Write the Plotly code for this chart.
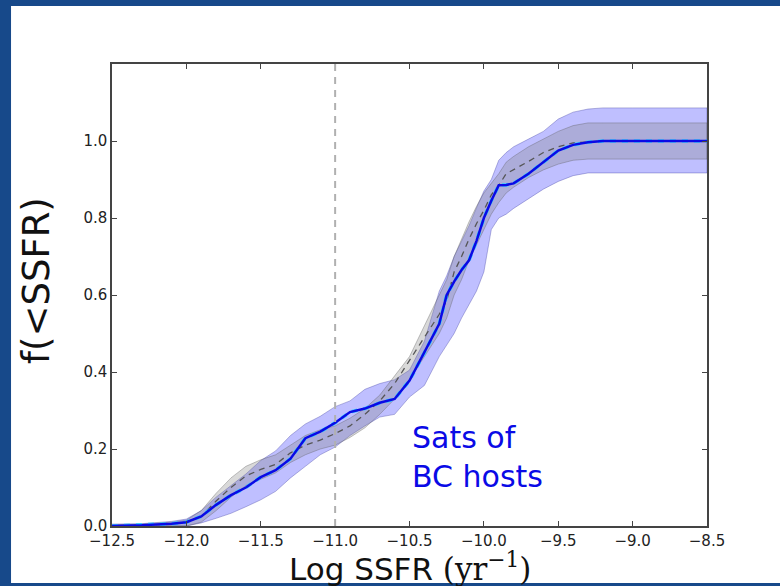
import plotly.graph_objects as go

# ---- data ----
ssfr = [-12.5, -12.3, -12.1, -12.0, -11.9, -11.8, -11.7, -11.6, -11.5, -11.4,
        -11.3, -11.2, -11.1, -11.0, -10.9, -10.8, -10.7, -10.6, -10.5, -10.4,
        -10.3, -10.25, -10.2, -10.15, -10.1, -10.05, -10.0, -9.95, -9.9, -9.85,
        -9.8, -9.7, -9.6, -9.5, -9.4, -9.3, -9.2, -9.0, -8.5]

sats_median = [0.0, 0.002, 0.006, 0.01, 0.025, 0.055, 0.08, 0.10, 0.127, 0.145,
               0.175, 0.228, 0.245, 0.268, 0.296, 0.305, 0.32, 0.33, 0.378, 0.45,
               0.525, 0.60, 0.635, 0.665, 0.69, 0.74, 0.80, 0.845, 0.885, 0.886,
               0.89, 0.915, 0.945, 0.975, 0.99, 0.997, 1.0, 1.0, 1.0]
sats_lo = [0.0, 0.0, 0.0, 0.0, 0.008, 0.02, 0.033, 0.05, 0.068, 0.09,
           0.125, 0.155, 0.185, 0.205, 0.235, 0.26, 0.283, 0.29, 0.335, 0.365,
           0.44, 0.47, 0.50, 0.54, 0.575, 0.61, 0.66, 0.77, 0.80, 0.81,
           0.825, 0.85, 0.875, 0.895, 0.91, 0.917, 0.917, 0.917, 0.917]
sats_hi = [0.005, 0.006, 0.012, 0.018, 0.04, 0.075, 0.105, 0.135, 0.17, 0.195,
           0.235, 0.265, 0.285, 0.31, 0.325, 0.355, 0.37, 0.38, 0.405, 0.48,
           0.61, 0.65, 0.70, 0.74, 0.78, 0.826, 0.87, 0.90, 0.95, 0.97,
           0.985, 1.005, 1.025, 1.057, 1.075, 1.083, 1.086, 1.086, 1.086]

comp_median = [0.0, 0.002, 0.005, 0.01, 0.025, 0.065, 0.1, 0.13, 0.147, 0.16,
               0.19, 0.21, 0.223, 0.24, 0.26, 0.29, 0.325, 0.37, 0.43, 0.49,
               0.55, 0.585, 0.66, 0.70, 0.745, 0.785, 0.82, 0.86, 0.885, 0.915,
               0.925, 0.947, 0.97, 0.985, 0.995, 0.998, 1.0, 1.0, 1.0]
comp_lo = [0.0, 0.0, 0.0, 0.0, 0.01, 0.04, 0.075, 0.105, 0.122, 0.138,
           0.165, 0.185, 0.2, 0.21, 0.23, 0.255, 0.29, 0.33, 0.38, 0.44,
           0.50, 0.54, 0.60, 0.64, 0.69, 0.73, 0.77, 0.81, 0.84, 0.865,
           0.88, 0.905, 0.925, 0.94, 0.95, 0.953, 0.953, 0.953, 0.953]
comp_hi = [0.003, 0.005, 0.01, 0.015, 0.04, 0.085, 0.125, 0.155, 0.172, 0.185,
           0.21, 0.235, 0.25, 0.26, 0.28, 0.305, 0.34, 0.39, 0.44, 0.52,
           0.60, 0.64, 0.70, 0.745, 0.79, 0.83, 0.865, 0.89, 0.915, 0.945,
           0.96, 0.985, 1.005, 1.025, 1.04, 1.047, 1.047, 1.047, 1.047]

x_ticks = [-12.5, -12.0, -11.5, -11.0, -10.5, -10.0, -9.5, -9.0, -8.5]
y_ticks = [0.0, 0.2, 0.4, 0.6, 0.8, 1.0]
cut_ssfr = -11.0

fig = go.Figure()

# sats band (light blue)
fig.add_trace(go.Scatter(
    x=ssfr + ssfr[::-1], y=sats_hi + sats_lo[::-1], fill="toself",
    fillcolor="rgba(0,0,255,0.25)", line=dict(color="rgba(60,60,160,0.45)", width=0.8),
    mode="lines", hoverinfo="skip", showlegend=False))
# comparison band (gray)
fig.add_trace(go.Scatter(
    x=ssfr + ssfr[::-1], y=comp_hi + comp_lo[::-1], fill="toself",
    fillcolor="rgba(128,128,128,0.3)", line=dict(color="rgba(90,90,90,0.45)", width=0.8),
    mode="lines", hoverinfo="skip", showlegend=False))
# comparison median (gray dashed)
fig.add_trace(go.Scatter(
    x=ssfr, y=comp_median, mode="lines",
    line=dict(color="#555555", width=1.3, dash="6px,5px"), showlegend=False))
# cyan under-line
fig.add_trace(go.Scatter(
    x=ssfr, y=sats_median, mode="lines",
    line=dict(color="#33ccff", width=3.5, dash="6px,6px"), showlegend=False))
# sats median (blue)
fig.add_trace(go.Scatter(
    x=ssfr, y=sats_median, mode="lines",
    line=dict(color="#0a0ae6", width=2.5), showlegend=False))

# vertical dashed reference line
fig.add_shape(type="line", xref="x", yref="paper", x0=cut_ssfr, x1=cut_ssfr, y0=0, y1=1,
              line=dict(color="#b0b0b0", width=2, dash="7px,6px"))

# white slide panel over blue background
fig.add_shape(type="rect", xref="paper", yref="paper", x0=-0.1697, x1=1.125,
              y0=-0.1234, y1=1.1255, fillcolor="white", line=dict(width=0), layer="below")

fig.add_annotation(x=-10.5, y=0.28, xref="x", yref="y", xanchor="left", yanchor="top",
                   text="Sats of<br>BC hosts", showarrow=False, align="left",
                   font=dict(family="DejaVu Sans", size=30, color="#0a0ae6"))

# axis titles as annotations for exact placement
fig.add_annotation(x=0.5, y=-0.089, xref="paper", yref="paper", xanchor="center", yanchor="middle",
                   text="Log SSFR <span style=\"font-family:'DejaVu Serif'\">(yr<sup>\u22121</sup>)</span>",
                   showarrow=False, font=dict(family="DejaVu Sans", size=31, color="#111111"))
fig.add_annotation(x=-0.128, y=0.532, xref="paper", yref="paper", xanchor="center", yanchor="middle",
                   text="f(<SSFR)", textangle=-90, showarrow=False,
                   font=dict(family="DejaVu Sans", size=37, color="#111111"))

axis_common = dict(showline=True, linecolor="#444444", linewidth=1.5, mirror="allticks",
                   ticks="inside", ticklen=5, tickcolor="#444444", showgrid=False,
                   zeroline=False, tickfont=dict(family="DejaVu Sans", size=15, color="#222222"))

fig.update_xaxes(range=[-12.5, -8.5], tickvals=x_ticks,
                 ticktext=[("\u2212%.1f" % abs(v)) for v in x_ticks], **axis_common)
fig.update_yaxes(range=[0, 1.2], tickvals=y_ticks, ticktext=["%.1f" % v for v in y_ticks],
                 **axis_common)

fig.update_layout(width=780, height=586, margin=dict(l=112, r=73, t=64, b=60),
                  paper_bgcolor="#17498a", plot_bgcolor="white", showlegend=False)

fig.write_html("out.html")
